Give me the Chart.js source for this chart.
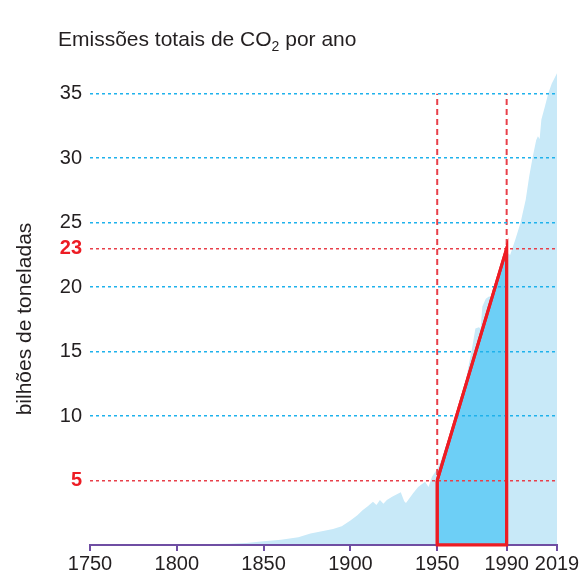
<!DOCTYPE html>
<html>
<head>
  <title>Emissões totais de CO2 por ano</title>
  <script src="https://cdn.jsdelivr.net/npm/chart.js"></script>
  <style>
    body { margin: 0; background: #fff; }
  </style>
</head>
<body>
  <canvas id="co2Chart" width="585" height="576"></canvas>

  <script>
    // emissões anuais (bilhões de toneladas)
    const years = [1750, 1800, 1830, 1840, 1850, 1860, 1870, 1877, 1885, 1890, 1895, 1900, 1904, 1907, 1910,
      1913, 1915, 1917, 1919, 1921, 1924, 1929, 1931, 1932, 1936, 1939, 1943, 1945, 1947, 1950, 1952,
      1955, 1960, 1965, 1970, 1972, 1974, 1975, 1976, 1978, 1980, 1982, 1983, 1985, 1988, 1990, 1992,
      1995, 1998, 2001, 2003, 2005, 2007, 2008, 2009, 2010, 2012, 2014, 2016, 2019];
    const emissions = [0, 0.03, 0.1, 0.15, 0.3, 0.4, 0.6, 0.9, 1.1, 1.25, 1.45, 1.9, 2.3, 2.7, 3.0,
      3.35, 3.1, 3.5, 3.2, 3.5, 3.75, 4.1, 3.4, 3.25, 4.0, 4.5, 4.9, 4.5, 5.3, 5.9, 6.5,
      7.7, 9.5, 11.8, 15.2, 16.8, 16.9, 16.8, 18.5, 19.1, 19.3, 18.9, 18.9, 20.0, 21.6, 22.7, 22.5,
      23.7, 25.0, 26.8, 28.6, 30.1, 31.4, 31.7, 31.5, 33.0, 34.0, 35.05, 35.8, 36.6];

    // trapézio 1950-1990
    const trapYears = [1950, 1990];
    const trapValues = [5, 23];

    const xTicks = [1750, 1800, 1850, 1900, 1950, 1990, 2019];
    const yTicks = [5, 10, 15, 20, 23, 25, 30, 35];
    const highlightTicks = [5, 23];

    const FONT = '"Liberation Sans", Arial, Helvetica, sans-serif';
    const TEXT = '#231f20';
    const RED = '#ed1c24';
    const BLUE_GRID = '#1fb2ec';
    const PURPLE = '#6f4ea3';
    const OUTLINE_INDEX = 4;

    const titlesPlugin = {
      id: 'titles',
      afterDraw(chart) {
        // contorno do trapézio por cima do eixo
        chart.getDatasetMeta(OUTLINE_INDEX).controller.draw();

        const ctx = chart.ctx;
        ctx.save();
        ctx.fillStyle = TEXT;
        ctx.textBaseline = 'alphabetic';
        ctx.textAlign = 'left';
        ctx.font = '21px ' + FONT;
        let x = 58;
        const y = 46;
        const part1 = 'Emissões totais de CO';
        ctx.fillText(part1, x, y);
        x += ctx.measureText(part1).width;
        ctx.font = '14px ' + FONT;
        ctx.fillText('2', x, y + 5);
        x += ctx.measureText('2').width;
        ctx.font = '21px ' + FONT;
        ctx.fillText(' por ano', x, y);

        ctx.translate(31, 319);
        ctx.rotate(-Math.PI / 2);
        ctx.textAlign = 'center';
        ctx.fillText('bilhões de toneladas', 0, 0);
        ctx.restore();
      }
    };

    const trapPoints = trapYears.map((yr, i) => ({ x: yr, y: trapValues[i] }));
    const outline = [
      ...trapPoints,
      { x: trapYears[1], y: 0 },
      { x: trapYears[0], y: 0 },
      trapPoints[0]
    ];

    new Chart(document.getElementById('co2Chart'), {
      type: 'line',
      data: {
        datasets: [
          {
            data: years.map((yr, i) => ({ x: yr, y: emissions[i] })),
            backgroundColor: '#c8e9f8',
            borderWidth: 0,
            fill: 'origin',
            pointRadius: 0,
            order: 4
          },
          {
            data: trapPoints,
            backgroundColor: '#6dcff6',
            borderWidth: 0,
            fill: 'origin',
            pointRadius: 0,
            order: 3
          },
          {
            data: [{ x: trapYears[0], y: 0 }, { x: trapYears[0], y: 35 }],
            borderColor: '#e8404a',
            borderWidth: 2,
            borderDash: [6, 4],
            fill: false,
            pointRadius: 0,
            order: 2
          },
          {
            data: [{ x: trapYears[1], y: 0 }, { x: trapYears[1], y: 35 }],
            borderColor: '#e8404a',
            borderWidth: 2,
            borderDash: [6, 4],
            fill: false,
            pointRadius: 0,
            order: 2
          },
          {
            data: outline,
            borderColor: RED,
            borderWidth: 3,
            borderJoinStyle: 'miter',
            fill: false,
            pointRadius: 0,
            order: 1
          }
        ]
      },
      options: {
        responsive: false,
        animation: false,
        events: [],
        layout: { padding: { top: 68, right: 28, left: 0, bottom: 0 } },
        plugins: {
          legend: { display: false },
          tooltip: { enabled: false }
        },
        scales: {
          x: {
            type: 'linear',
            min: 1750,
            max: 2019,
            afterBuildTicks: scale => { scale.ticks = xTicks.map(v => ({ value: v })); },
            afterFit: scale => { scale.height = 31; },
            grid: {
              z: 1,
              drawOnChartArea: false,
              drawTicks: true,
              tickLength: 6,
              color: PURPLE,
              lineWidth: 2
            },
            border: { z: 1, color: PURPLE, width: 2 },
            ticks: {
              z: 1,
              padding: 1,
              maxRotation: 0,
              autoSkip: false,
              color: TEXT,
              font: { family: FONT, size: 20 },
              callback: v => String(v)
            }
          },
          y: {
            min: 0,
            max: 37,
            afterBuildTicks: scale => { scale.ticks = yTicks.map(v => ({ value: v })); },
            afterFit: scale => { scale.width = 90; },
            grid: {
              z: 1,
              drawTicks: false,
              lineWidth: 1.5,
              color: ctx => highlightTicks.includes(ctx.tick && ctx.tick.value) ? '#e8404a' : BLUE_GRID
            },
            border: { display: false, dash: [3, 3] },
            ticks: {
              z: 1,
              padding: 8,
              autoSkip: false,
              color: ctx => highlightTicks.includes(ctx.tick && ctx.tick.value) ? RED : TEXT,
              font: ctx => ({
                family: FONT,
                size: 20,
                weight: highlightTicks.includes(ctx.tick && ctx.tick.value) ? 'bold' : 'normal'
              }),
              callback: v => String(v)
            }
          }
        }
      },
      plugins: [titlesPlugin]
    });
  </script>
</body>
</html>
